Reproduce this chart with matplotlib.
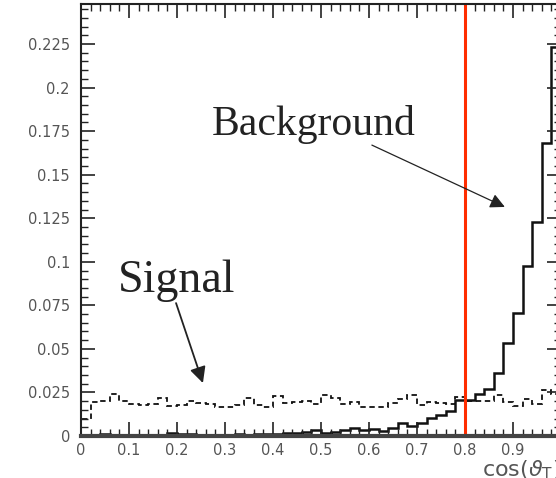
import numpy as np
import matplotlib
matplotlib.use("Agg")
import matplotlib.pyplot as plt
from matplotlib.ticker import MultipleLocator

# histogram contents, 50 bins of width 0.02 between 0 and 1
bin_edges = np.linspace(0.0, 1.0, 51)

background = [0.0008, 0.0008, 0.001, 0.0008, 0.0008, 0.0008, 0.0008, 0.0008, 0.0008, 0.002,
              0.0012, 0.001, 0.0008, 0.0008, 0.0006, 0.0008, 0.001, 0.0008, 0.001, 0.001,
              0.0012, 0.002, 0.002, 0.0022, 0.0034, 0.0015, 0.0025, 0.0034, 0.0048, 0.0036,
              0.0042, 0.003, 0.0046, 0.0072, 0.006, 0.0075, 0.0104, 0.0122, 0.0145, 0.0205,
              0.0205, 0.0243, 0.0268, 0.036, 0.0536, 0.0704, 0.0976, 0.123, 0.168, 0.2235]

signal = [0.010, 0.0197, 0.0203, 0.0241, 0.0203, 0.0184, 0.0178, 0.0184, 0.0216, 0.0172,
          0.0178, 0.0203, 0.0187, 0.0184, 0.0168, 0.0168, 0.0178, 0.0216, 0.0178, 0.0168,
          0.023, 0.0191, 0.0197, 0.0203, 0.0184, 0.0235, 0.0216, 0.0184, 0.0197, 0.0168,
          0.0168, 0.0168, 0.0191, 0.021, 0.0235, 0.0178, 0.0194, 0.0191, 0.0184, 0.0222,
          0.0203, 0.0203, 0.0203, 0.0235, 0.0197, 0.0172, 0.021, 0.0184, 0.0264, 0.0241]

xtick_vals = [0, 0.1, 0.2, 0.3, 0.4, 0.5, 0.6, 0.7, 0.8, 0.9]
xtick_labels = ["0", "0.1", "0.2", "0.3", "0.4", "0.5", "0.6", "0.7", "0.8", "0.9"]
ytick_vals = [0, 0.025, 0.05, 0.075, 0.1, 0.125, 0.15, 0.175, 0.2, 0.225]
ytick_labels = ["0", "0.025", "0.05", "0.075", "0.1", "0.125", "0.15", "0.175", "0.2", "0.225"]

cut_value = 0.8

fig = plt.figure(figsize=(5.56, 4.78), dpi=100)
# axes runs a little past the right edge of the picture, like the original crop
ax = fig.add_axes([81 / 556, 42 / 478, 480 / 556, 432 / 478])

ax.stairs(background, bin_edges, color="#111111", linewidth=1.8)
ax.stairs(signal, bin_edges, color="#111111", linewidth=1.3, linestyle=(0, (3, 2)))
ax.axvline(cut_value, color="#ff2d00", linewidth=2.2)

ax.set_xlim(0, 1)
ax.set_ylim(0, 0.248)

ax.xaxis.set_minor_locator(MultipleLocator(0.02))
ax.yaxis.set_minor_locator(MultipleLocator(0.005))
ax.set_xticks(xtick_vals)
ax.set_xticklabels(xtick_labels)
ax.set_yticks(ytick_vals)
ax.set_yticklabels(ytick_labels)

ax.tick_params(which="both", direction="in", top=True, right=True,
               labelcolor="#555555", color="#222222")
ax.tick_params(which="major", length=10, width=1.2)
ax.tick_params(which="minor", length=5, width=1.0)
ax.tick_params(axis="x", labelsize=10.5, pad=5)
ax.tick_params(axis="y", labelsize=10.5, pad=8)
for side in ["left", "top"]:
    ax.spines[side].set_linewidth(1.5)
    ax.spines[side].set_color("#222222")
ax.spines["bottom"].set_linewidth(3)
ax.spines["bottom"].set_color("#444444")

ax.set_xlabel(r"cos($\vartheta_{\rm T}$)", loc="right", fontsize=16, color="#555555",
              labelpad=0)

ax.text(0.273, 0.1728, "Background", family="Liberation Serif", fontsize=30, color="#222222")
ax.text(0.077, 0.0827, "Signal", family="Liberation Serif", fontsize=33, color="#222222")

ax.annotate("", xy=(0.883, 0.1315), xytext=(0.606, 0.167),
            arrowprops=dict(arrowstyle="-|>", color="#222222", lw=0.9,
                            mutation_scale=22, shrinkA=0, shrinkB=0))
ax.annotate("", xy=(0.254, 0.0304), xytext=(0.198, 0.0763),
            arrowprops=dict(arrowstyle="-|>", color="#222222", lw=1.3,
                            mutation_scale=24, shrinkA=0, shrinkB=0))

fig.savefig("out.png", dpi=100)
